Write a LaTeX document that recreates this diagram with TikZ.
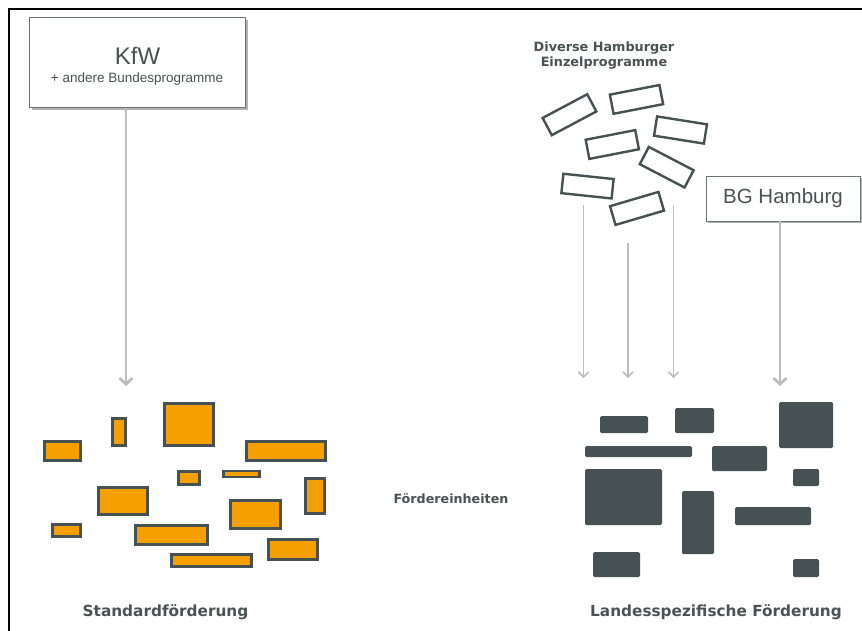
\documentclass[tikz,border=0pt]{standalone}
\usepackage{fontspec}
\setmainfont{DejaVu Sans}
\newfontfamily\libsans{Liberation Sans}
\usetikzlibrary{arrows.meta,shadows}
\definecolor{orangefill}{HTML}{F5A000}
\definecolor{darkbox}{HTML}{465153}
\definecolor{labelgray}{HTML}{4A5254}
\definecolor{arrowgray}{HTML}{BDBDBD}
\tikzset{
  obox/.style={draw=darkbox, fill=orangefill, line width=2.6pt},
  dbox/.style={fill=darkbox, rounded corners=1.5pt},
  tbox/.style={draw=darkbox, fill=white, line width=2.4pt, minimum width=50.5pt, minimum height=19.5pt, inner sep=0pt, outer sep=0pt},
  srcbox/.style={draw=darkbox!80, line width=0.8pt, fill=white, inner sep=0pt, outer sep=0pt,
    drop shadow={shadow xshift=2pt, shadow yshift=-2pt, fill=black, opacity=0.3}},
  thinarr/.style={draw=arrowgray, line width=1.6pt, -{Straight Barb[length=5pt,width=10pt]}},
  thickarr/.style={draw=arrowgray, line width=2.8pt, -{Straight Barb[length=6pt,width=13pt]}},
  boldlabel/.style={text=labelgray, font=\bfseries\fontsize{15.3}{18}\selectfont, inner sep=0pt},
  smallbold/.style={text=labelgray, font=\bfseries\fontsize{12.8}{15}\selectfont, inner sep=0pt, align=center},
}
\begin{document}
\begin{tikzpicture}[x=1pt, y=-1pt]
\useasboundingbox (0,0) rectangle (862,630);
\clip (0,0) rectangle (862,630);
% frame
\draw[line width=2pt, black] (9,640) -- (9,9) -- (870,9);

% source boxes
\node[srcbox, minimum width=216pt, minimum height=90pt] (kfw) at (137.5,62.5) {};
\node[text=labelgray, font=\libsans\fontsize{24}{28}\selectfont, inner sep=0pt] (kfwt) at (137.5,56) {KfW};
\node[text=labelgray, font=\libsans\fontsize{13.5}{16}\selectfont, inner sep=0pt] (kfws) at (137,79) {+ andere Bundesprogramme};

\node[srcbox, minimum width=154pt, minimum height=45pt, text=labelgray, font=\libsans\fontsize{20.5}{24}\selectfont] (bg) at (783,198.5) {BG Hamburg};

\node[smallbold] (div) at (604,56) {Diverse Hamburger\\Einzelprogramme};

% tilted boxes
\node[tbox, rotate=28] (ta) at (569.5,114.7) {};
\node[tbox, rotate=11] (tb) at (636.5,99.4) {};
\node[tbox, rotate=11] (tc) at (612.3,144.5) {};
\node[tbox, rotate=-9] (td) at (680.5,130) {};
\node[tbox, rotate=-27.5] (te) at (666.7,167.2) {};
\node[tbox, rotate=-6] (tf) at (587.5,186.1) {};
\node[tbox, rotate=16.4] (tg) at (637,208.4) {};

% arrows
\coordinate (ae1) at (126,386);
\draw[thickarr] (kfw.south -| ae1) -- (ae1);
\coordinate (ae5) at (780,386);
\draw[thickarr] (bg.south -| ae5) -- (ae5);
\coordinate (as2) at (583.5,205);
\coordinate (ae2) at (583.5,378);
\draw[thinarr] (as2) -- (ae2);
\coordinate (as3) at (628,243);
\coordinate (ae3) at (628,378);
\draw[thinarr] (as3) -- (ae3);
\coordinate (as4) at (673.5,205);
\coordinate (ae4) at (673.5,378);
\draw[thinarr] (as4) -- (ae4);

% orange boxes
\draw[obox] (44.5,441.5) rectangle (80.5,460.5);
\draw[obox] (112.5,418.5) rectangle (125.5,445.5);
\draw[obox] (164.5,403.5) rectangle (213.5,445.5);
\draw[obox] (246.5,441.5) rectangle (325.5,460.5);
\draw[obox] (178.5,471.5) rectangle (199.5,484.5);
\draw[obox] (223.5,470.8) rectangle (259.5,476.8);
\draw[obox] (305.5,478.5) rectangle (324.5,513.5);
\draw[obox] (98.5,487.5) rectangle (147.5,514.5);
\draw[obox] (230.5,500.5) rectangle (280.5,528.5);
\draw[obox] (52.5,524.5) rectangle (80.5,536.5);
\draw[obox] (135.5,525.5) rectangle (207.5,544.5);
\draw[obox] (268.5,539.5) rectangle (317.5,559.5);
\draw[obox] (171.5,554.5) rectangle (251.5,566.5);

% dark boxes
\fill[dbox] (600,416) rectangle (648,433);
\fill[dbox] (675,408) rectangle (714,433);
\fill[dbox] (779,402) rectangle (833,448);
\fill[dbox] (585,446) rectangle (692,457);
\fill[dbox] (712,446) rectangle (767,471);
\fill[dbox] (793,469) rectangle (819,486);
\fill[dbox] (585,469) rectangle (662,525);
\fill[dbox] (682,491) rectangle (714,554);
\fill[dbox] (735,507) rectangle (811,525);
\fill[dbox] (593,552) rectangle (640,577);
\fill[dbox] (793,559) rectangle (819,577);

% labels
\node[text=labelgray, font=\bfseries\fontsize{12.7}{15}\selectfont, inner sep=0pt] (fe) at (451,498.5) {Fördereinheiten};
\node[boldlabel] (std) at (165.5,612.5) {Standardförderung};
\node[boldlabel] (lsf) at (716,612.5) {Landesspezifische Förderung};
\end{tikzpicture}
\end{document}
